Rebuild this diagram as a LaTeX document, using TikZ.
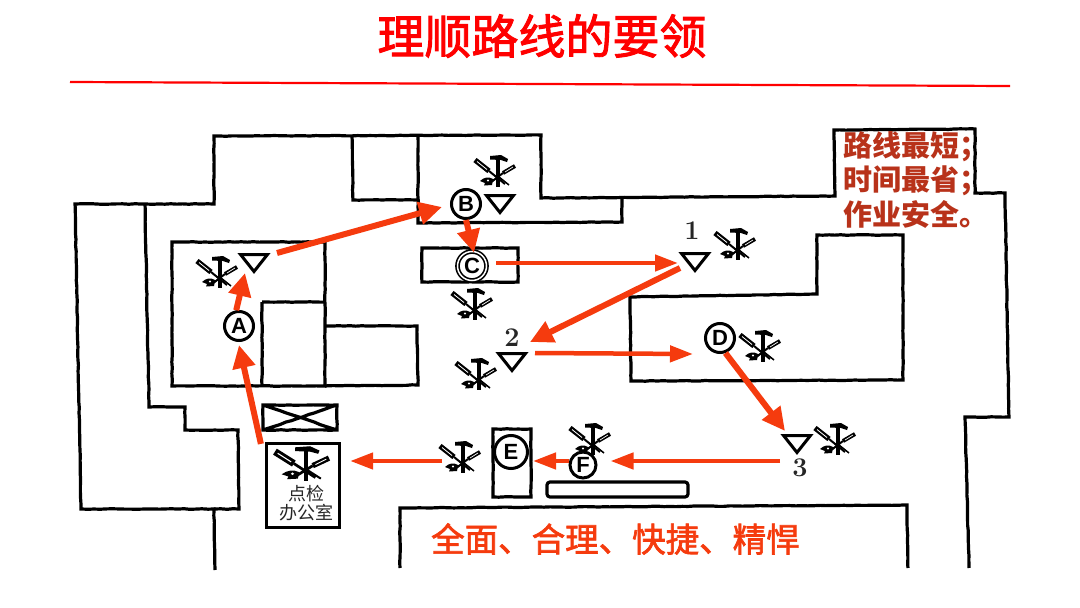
\documentclass[tikz,border=0pt]{standalone}
\usepackage{fontspec}
\newfontfamily\cjk{Noto Sans CJK SC}
\newfontfamily\cjkheavy[FakeBold=2]{Noto Sans CJK SC}
\newfontfamily\lab{Liberation Sans}
\usetikzlibrary{arrows.meta,shapes.geometric,decorations.pathmorphing}
\definecolor{routered}{HTML}{F53B0E}
\definecolor{notered}{HTML}{B8321A}
\tikzset{
  plan/.style={line width=3.2pt,line join=miter,draw=black,decorate,decoration={random steps,segment length=6pt,amplitude=.3pt}},
  route/.style={line width=4.5pt,draw=routered,-{Triangle[length=23pt,width=16pt]}},
  fat/.style={line width=6pt,draw=routered,-{Triangle[length=23pt,width=22pt]}},
  station/.style={circle,draw,line width=3pt,minimum size=29pt,inner sep=0pt,font=\lab\bfseries\fontsize{22}{22}\selectfont},
  store/.style={isosceles triangle,isosceles triangle apex angle=74,isosceles triangle stretches,shape border rotate=-90,draw,line width=3pt,minimum width=27pt,minimum height=17pt,inner sep=0pt,anchor=apex},
  num/.style={font=\bfseries\fontsize{27}{27}\selectfont,text=black!85},
  pics/tools/.style={code={
    \begin{scope}[scale=#1]
      \coordinate (-o) at (0,0);
      \draw[line width=#1*3.2pt] (0,-18) -- (0,10);
      \fill (-8,-21) -- (3,-22) -- (10,-18) -- (9,-15) -- (3,-17) -- (-8,-17.5) -- cycle;
      \draw[line width=#1*5.2pt] (-23,-17) -- (-9,-6);
      \draw[white,line width=#1*.8pt] (-21,-15.5) -- (-11,-7.5);
      \draw[line width=#1*2pt] (-9,-6) -- (7,7);
      \draw[line width=#1*4pt] (17,-11) -- (5,-4);
      \draw[white,line width=#1*.7pt] (15,-10) -- (7,-5);
      \draw[line width=#1*2pt] (5,-4) -- (-8,6);
      \draw[line width=#1*1.5pt] (1,0) -- (11,8);
      \fill (-18,4) .. controls (-14,0) and (-9,-.5) .. (-5,2) -- (-6,8) -- (-14,8.5) -- (-13,6) -- cycle;
      \fill[white] (-10,3.5) circle (1.2);
    \end{scope}
  }},
  pics/tools/.default=1
}
\begin{document}
\begin{tikzpicture}[x=1pt,y=-1pt]
  \useasboundingbox (0,0) rectangle (1080,608);
  \node[font=\cjkheavy\fontsize{47}{47}\selectfont,text=red] (title) at (542,36) {理顺路线的要领};
  \draw[red,line width=2.2pt] (70,82) -- (1010,86);

  \draw[plan] (215,570) -- (214,509) -- (81,509) -- (75,204) -- (214,204) -- (214,136) -- (541,135) -- (541,198)
    -- (835,196) -- (834,130) -- (975,129) -- (975,193) -- (1005,193) -- (1009,417) -- (965,417) -- (969,568);
  \draw[plan] (145,204) -- (149,407) -- (185,407) -- (185,430) -- (238,430) -- (239,509) -- (214,509);
  \draw[plan] (352,136) -- (353,200) -- (418,200);
  \draw[plan] (418,135) -- (418,223) -- (622,222) -- (622,198);
  \draw[plan] (172,242) rectangle (325,386);
  \draw[plan] (262,302) -- (326,302) (262,302) -- (262,386);
  \draw[plan] (326,326) -- (417,326) -- (418,385) -- (325,386);
  \draw[plan] (422,248) rectangle (518,282);
  \draw[plan] (630,297) -- (817,294) -- (817,235) -- (903,235) -- (903,380) -- (631,381) -- cycle;
  \draw[plan] (263,405) rectangle (337,430) (263,405) -- (337,430) (263,430) -- (337,405);
  \draw[plan] (400,568) -- (400,508) -- (907,505) -- (908,568);
  \draw[plan] (493,429) rectangle (531,497);
  \draw[line width=3.2pt,rounded corners=3pt] (547,482) rectangle (688,497);

  \node[draw,line width=3.2pt,minimum width=73pt,minimum height=84pt,inner sep=0pt] (office) at (303,485.5) {};
  \node[font=\cjk\fontsize{18}{19}\selectfont,align=center,text=black!85] (officetext) at (306,503) {点检\\办公室};

  \node[station] (A) at (239,326) {A};
  \node[station] (B) at (466,204) {B};
  \node[station,double,double distance=1.5pt,line width=1.6pt] (C) at (472,266) {C};
  \node[station] (D) at (720,338) {D};
  \node[station,minimum size=33pt] (E) at (511,452) {E};
  \node[station,minimum size=26pt] (F) at (583,465) {F};

  \node[store] (tri0) at (254,274) {};
  \node[store] (triB) at (500,215) {};
  \node[store] (tri1) at (695,273) {};
  \node[store] (tri2) at (512,373) {};
  \node[store] (tri3) at (797,455) {};
  \node[num] (n1) at (692,231) {1};
  \node[num] (n2) at (512,338) {2};
  \node[num] (n3) at (800,468) {3};

  \pic (tool0) at (220,278) {tools};
  \pic (toolB) at (498,177) {tools};
  \pic (toolC) at (475,310) {tools};
  \pic (tool1) at (738,250) {tools};
  \pic (tool2) at (479,380) {tools};
  \pic (toolD) at (763,352) {tools};
  \pic (tool3) at (838,445) {tools};
  \pic (toolF) at (593,445) {tools};
  \pic (toolE) at (463,463) {tools};
  \pic[yscale=.8] (toolO) at (306,470) {tools=1.35};

  \draw[fat] ([xshift=-4pt,yshift=-2pt]office.north west) -- ([yshift=-3pt]A.south);
  \draw[fat] (A.100) -- ([xshift=-9pt,yshift=1pt]tri0.apex);
  \draw[fat] ([xshift=23pt,yshift=21pt]tri0.apex) -- ([xshift=-8pt,yshift=-3pt]B.west);
  \draw[fat] (B.south) -- ([xshift=2pt,yshift=-2pt]C.north);
  \draw[route] ([xshift=9pt,yshift=3pt]C.east) -- ([xshift=-17pt,yshift=10pt]tri1.apex);
  \draw[fat] ([xshift=-15pt,yshift=5pt]tri1.apex) -- ([xshift=18pt,yshift=31pt]tri2.apex);
  \draw[route] ([xshift=23pt,yshift=20pt]tri2.apex) -- ([xshift=-27pt,yshift=-16pt]D.center);
  \draw[fat] (D.-70) -- ([xshift=-12pt,yshift=24pt]tri3.apex);
  \draw[route] ([xshift=-17pt,yshift=-6pt]tri3.apex) -- ([xshift=13pt,yshift=4pt]F.east);
  \draw[route] ([yshift=4pt]F.west) -- ([xshift=4pt,yshift=-9pt]E.east);
  \draw[route] ([xshift=-21pt,yshift=2pt]toolE-o) -- ([xshift=9pt,yshift=24.5pt]office.east);

  \node[font=\cjk\bfseries\fontsize{29}{34.5}\selectfont,text=notered,align=left,anchor=north west,inner sep=0pt] (goals) at (843,131) {路线最短；\\时间最省；\\作业安全。};
  \node[font=\cjkheavy\fontsize{33.5}{34}\selectfont,text=routered,anchor=west,inner sep=0pt] (slogan) at (431,539) {全面、合理、快捷、精悍};
\end{tikzpicture}
\end{document}
